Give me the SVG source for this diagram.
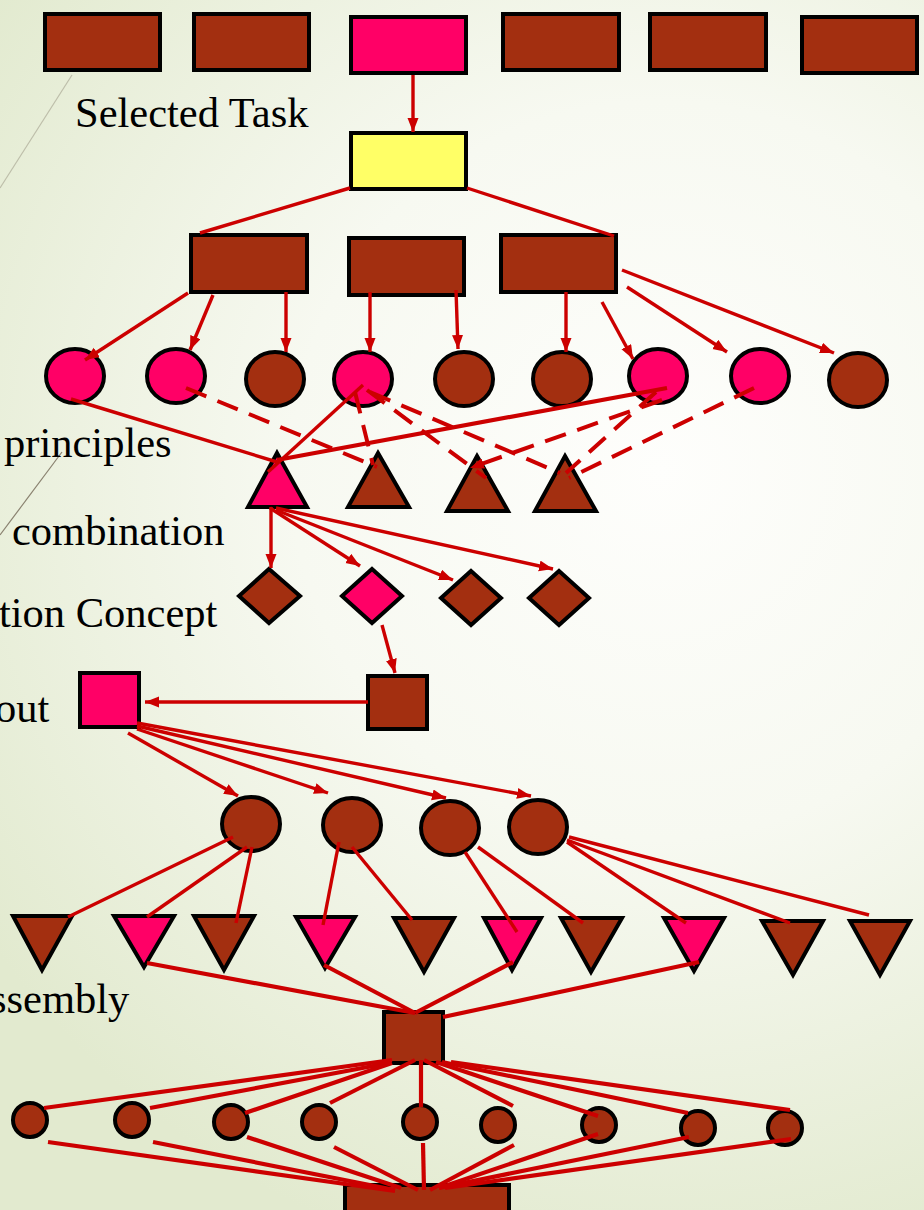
<svg xmlns="http://www.w3.org/2000/svg" width="924" height="1210" viewBox="0 0 924 1210">
  <defs>
    <radialGradient id="bg" cx="660" cy="470" r="820" gradientUnits="userSpaceOnUse">
      <stop offset="0" stop-color="#fefefc"/>
      <stop offset="0.45" stop-color="#f7f9f1"/>
      <stop offset="1" stop-color="#e2eacf"/>
    </radialGradient>
    <marker id="arr" markerUnits="userSpaceOnUse" markerWidth="15" markerHeight="12" refX="14" refY="5.5" orient="auto">
      <path d="M0,0 L14,5.5 L0,11 Z" fill="#cc0000"/>
    </marker>
    <style>
      .br { fill: #a32f10; stroke: #000; stroke-width: 4; }
      .pk { fill: #ff0066; stroke: #000; stroke-width: 4; }
      .yl { fill: #ffff66; stroke: #000; stroke-width: 4; }
      .ln { stroke: #cc0000; stroke-width: 3.4; fill: none; }
      .lw { stroke: #cc0000; stroke-width: 4.2; fill: none; }
      .ds { stroke: #cc0000; stroke-width: 4; fill: none; stroke-dasharray: 22 12; }
      .ar { marker-end: url(#arr); }
      .lbl { font-family: "Liberation Serif", "Times New Roman", serif; font-size: 42.5px; fill: #000; }
      .thin { stroke: #8a8270; stroke-width: 1.2; fill: none; }
    </style>
  </defs>

  <rect width="924" height="1210" fill="url(#bg)"/>

  <!-- decorative thin strokes at the left margin -->
  <g id="margin-lines">
    <line class="thin" x1="72" y1="75" x2="0" y2="188" stroke-opacity="0.45"/>
    <line class="thin" x1="62" y1="452" x2="0" y2="535"/>
  </g>

  <!-- labels -->
  <g id="labels">
    <text class="lbl" x="75" y="127">Selected Task</text>
    <text class="lbl" x="4" y="457">principles</text>
    <text class="lbl" x="12" y="545">combination</text>
    <text class="lbl" x="-1" y="627">tion Concept</text>
    <text class="lbl" x="-5" y="722">out</text>
    <text class="lbl" x="-10" y="1013">ssembly</text>
  </g>

  <!-- task row -->
  <g id="task-1"><rect class="br" x="45" y="14" width="115" height="56"/></g>
  <g id="task-2"><rect class="br" x="194" y="14" width="115" height="56"/></g>
  <g id="task-3"><rect class="pk" x="351" y="17" width="115" height="56"/></g>
  <g id="task-4"><rect class="br" x="503" y="14" width="116" height="56"/></g>
  <g id="task-5"><rect class="br" x="650" y="14" width="116" height="56"/></g>
  <g id="task-6"><rect class="br" x="802" y="17" width="115" height="56"/></g>

  <g id="function"><rect class="yl" x="351" y="133" width="115" height="56"/></g>

  <!-- sub-functions -->
  <g id="sub-1"><rect class="br" x="191" y="235" width="116" height="57"/></g>
  <g id="sub-2"><rect class="br" x="349" y="238" width="115" height="57"/></g>
  <g id="sub-3"><rect class="br" x="501" y="235" width="115" height="57"/></g>

  <!-- principles -->
  <g id="p-1"><ellipse class="pk" cx="75" cy="376" rx="29" ry="27"/></g>
  <g id="p-2"><ellipse class="pk" cx="176" cy="376" rx="29" ry="27"/></g>
  <g id="p-3"><ellipse class="br" cx="275" cy="379" rx="29" ry="27"/></g>
  <g id="p-4"><ellipse class="pk" cx="363" cy="379" rx="29" ry="27"/></g>
  <g id="p-5"><ellipse class="br" cx="464" cy="379" rx="29" ry="27"/></g>
  <g id="p-6"><ellipse class="br" cx="562" cy="379" rx="29" ry="27"/></g>
  <g id="p-7"><ellipse class="pk" cx="658" cy="376" rx="29" ry="27"/></g>
  <g id="p-8"><ellipse class="pk" cx="760" cy="376" rx="29" ry="27"/></g>
  <g id="p-9"><ellipse class="br" cx="858" cy="380" rx="29" ry="27"/></g>

  <!-- combinations -->
  <g id="c-1"><polygon class="pk" points="277,453 307,507 248,507"/></g>
  <g id="c-2"><polygon class="br" points="378,453 409,507 348,507"/></g>
  <g id="c-3"><polygon class="br" points="477,456 508,511 447,511"/></g>
  <g id="c-4"><polygon class="br" points="565,456 596,511 535,511"/></g>

  <!-- concepts -->
  <g id="k-1"><polygon class="br" points="269,569 300,596 269,623 239,596"/></g>
  <g id="k-2"><polygon class="pk" points="372,569 402,596 372,623 342,596"/></g>
  <g id="k-3"><polygon class="br" points="471,571 501,598 471,625 441,598"/></g>
  <g id="k-4"><polygon class="br" points="559,571 589,598 559,625 529,598"/></g>

  <!-- layouts -->
  <g id="layout-final"><rect class="pk" x="80" y="673" width="59" height="54"/></g>
  <g id="layout-draft"><rect class="br" x="368" y="676" width="59" height="53"/></g>

  <!-- modules -->
  <g id="m-1"><ellipse class="br" cx="251" cy="824" rx="29" ry="27"/></g>
  <g id="m-2"><ellipse class="br" cx="352" cy="825" rx="29" ry="27"/></g>
  <g id="m-3"><ellipse class="br" cx="450" cy="828" rx="29" ry="27"/></g>
  <g id="m-4"><ellipse class="br" cx="538" cy="827" rx="29" ry="27"/></g>

  <!-- parts -->
  <g id="v-1"><polygon class="br" points="13,916 72,916 42,970"/></g>
  <g id="v-2"><polygon class="pk" points="114,916 174,916 144,967"/></g>
  <g id="v-3"><polygon class="br" points="194,916 254,916 224,970"/></g>
  <g id="v-4"><polygon class="pk" points="296,917 355,917 325,968"/></g>
  <g id="v-5"><polygon class="br" points="394,918 454,918 424,972"/></g>
  <g id="v-6"><polygon class="pk" points="484,918 541,918 512,970"/></g>
  <g id="v-7"><polygon class="br" points="561,918 622,918 591,972"/></g>
  <g id="v-8"><polygon class="pk" points="664,918 724,918 694,971"/></g>
  <g id="v-9"><polygon class="br" points="762,921 823,921 793,975"/></g>
  <g id="v-10"><polygon class="br" points="850,921 910,921 880,975"/></g>

  <!-- assembly -->
  <g id="assembly"><rect class="br" x="384" y="1012" width="59" height="51"/></g>

  <!-- components -->
  <g id="s-1"><ellipse class="br" cx="30" cy="1120" rx="17" ry="17"/></g>
  <g id="s-2"><ellipse class="br" cx="132" cy="1120" rx="17" ry="17"/></g>
  <g id="s-3"><ellipse class="br" cx="231" cy="1122" rx="17" ry="17"/></g>
  <g id="s-4"><ellipse class="br" cx="319" cy="1122" rx="17" ry="17"/></g>
  <g id="s-5"><ellipse class="br" cx="420" cy="1122" rx="17" ry="17"/></g>
  <g id="s-6"><ellipse class="br" cx="498" cy="1125" rx="17" ry="17"/></g>
  <g id="s-7"><ellipse class="br" cx="599" cy="1125" rx="17" ry="17"/></g>
  <g id="s-8"><ellipse class="br" cx="698" cy="1128" rx="17" ry="17"/></g>
  <g id="s-9"><ellipse class="br" cx="785" cy="1128" rx="17" ry="17"/></g>

  <g id="product"><rect class="br" x="345" y="1185" width="164" height="40"/></g>

  <!-- connectors -->
  <g id="connectors">
    <line class="ln ar" x1="413" y1="75" x2="413" y2="132"/>
    <line class="ln" x1="350" y1="188" x2="200" y2="233"/>
    <line class="ln" x1="467" y1="188" x2="614" y2="236"/>

    <line class="ln ar" x1="188" y1="293" x2="85" y2="360"/>
    <line class="ln ar" x1="213" y1="295" x2="190" y2="350"/>
    <line class="ln ar" x1="286" y1="292" x2="286" y2="352"/>
    <line class="ln ar" x1="370" y1="292" x2="370" y2="352"/>
    <line class="ln ar" x1="456" y1="290" x2="458" y2="349"/>
    <line class="ln ar" x1="566" y1="292" x2="566" y2="352"/>
    <line class="ln ar" x1="602" y1="302" x2="633" y2="359"/>
    <line class="ln ar" x1="627" y1="287" x2="727" y2="352"/>
    <line class="ln ar" x1="622" y1="270" x2="834" y2="353"/>

    <line class="ln" x1="71" y1="399" x2="277" y2="462"/>
    <line class="lw" x1="667" y1="388" x2="277" y2="460"/>
    <line class="ln" x1="363" y1="385" x2="268" y2="472"/>
    <line class="ds" x1="186" y1="388" x2="377" y2="467"/>
    <line class="ds" x1="355" y1="392" x2="373" y2="465"/>
    <line class="ds" x1="367" y1="390" x2="486" y2="478"/>
    <line class="ds" x1="370" y1="392" x2="560" y2="473"/>
    <line class="ds ar" x1="662" y1="400" x2="470" y2="468"/>
    <line class="ds" x1="656" y1="392" x2="566" y2="473"/>
    <line class="ds" x1="754" y1="388" x2="569" y2="478"/>

    <line class="ln ar" x1="271" y1="507" x2="271" y2="568"/>
    <line class="ln ar" x1="270" y1="508" x2="360" y2="566"/>
    <line class="ln ar" x1="276" y1="510" x2="453" y2="580"/>
    <line class="ln ar" x1="276" y1="508" x2="553" y2="569"/>

    <line class="ln ar" x1="382" y1="625" x2="395" y2="673"/>
    <line class="ln ar" x1="368" y1="702" x2="145" y2="702"/>

    <line class="ln ar" x1="128" y1="733" x2="238" y2="796"/>
    <line class="ln ar" x1="137" y1="729" x2="328" y2="793"/>
    <line class="ln ar" x1="137" y1="726" x2="446" y2="798"/>
    <line class="ln ar" x1="137" y1="723" x2="531" y2="796"/>

    <line class="ln" x1="233" y1="837" x2="68" y2="917"/>
    <line class="ln" x1="247" y1="847" x2="147" y2="917"/>
    <line class="ln" x1="252" y1="847" x2="236" y2="923"/>
    <line class="ln" x1="339" y1="842" x2="323" y2="925"/>
    <line class="ln" x1="352" y1="847" x2="412" y2="920"/>
    <line class="ln" x1="465" y1="852" x2="517" y2="932"/>
    <line class="ln" x1="478" y1="847" x2="583" y2="923"/>
    <line class="ln" x1="567" y1="842" x2="686" y2="923"/>
    <line class="ln" x1="567" y1="840" x2="790" y2="923"/>
    <line class="ln" x1="569" y1="837" x2="869" y2="915"/>

    <line class="lw" x1="147" y1="963" x2="415" y2="1013"/>
    <line class="lw" x1="324" y1="965" x2="415" y2="1013"/>
    <line class="lw" x1="513" y1="962" x2="415" y2="1013"/>
    <line class="lw" x1="699" y1="962" x2="443" y2="1017"/>

    <line class="lw" x1="392" y1="1060" x2="44" y2="1108"/>
    <line class="lw" x1="389" y1="1063" x2="150" y2="1108"/>
    <line class="lw" x1="392" y1="1063" x2="245" y2="1113"/>
    <line class="lw" x1="415" y1="1060" x2="330" y2="1103"/>
    <line class="lw" x1="421" y1="1060" x2="421" y2="1107"/>
    <line class="lw" x1="424" y1="1060" x2="513" y2="1106"/>
    <line class="lw" x1="436" y1="1062" x2="598" y2="1116"/>
    <line class="lw" x1="442" y1="1062" x2="688" y2="1113"/>
    <line class="lw" x1="451" y1="1062" x2="790" y2="1110"/>

    <line class="lw" x1="48" y1="1142" x2="395" y2="1191"/>
    <line class="lw" x1="153" y1="1142" x2="395" y2="1190"/>
    <line class="lw" x1="247" y1="1137" x2="401" y2="1188"/>
    <line class="lw" x1="334" y1="1147" x2="418" y2="1190"/>
    <line class="lw" x1="423" y1="1143" x2="424" y2="1190"/>
    <line class="lw" x1="514" y1="1145" x2="430" y2="1190"/>
    <line class="lw" x1="598" y1="1134" x2="439" y2="1188"/>
    <line class="lw" x1="689" y1="1137" x2="439" y2="1188"/>
    <line class="lw" x1="791" y1="1139" x2="445" y2="1188"/>
  </g>
</svg>
